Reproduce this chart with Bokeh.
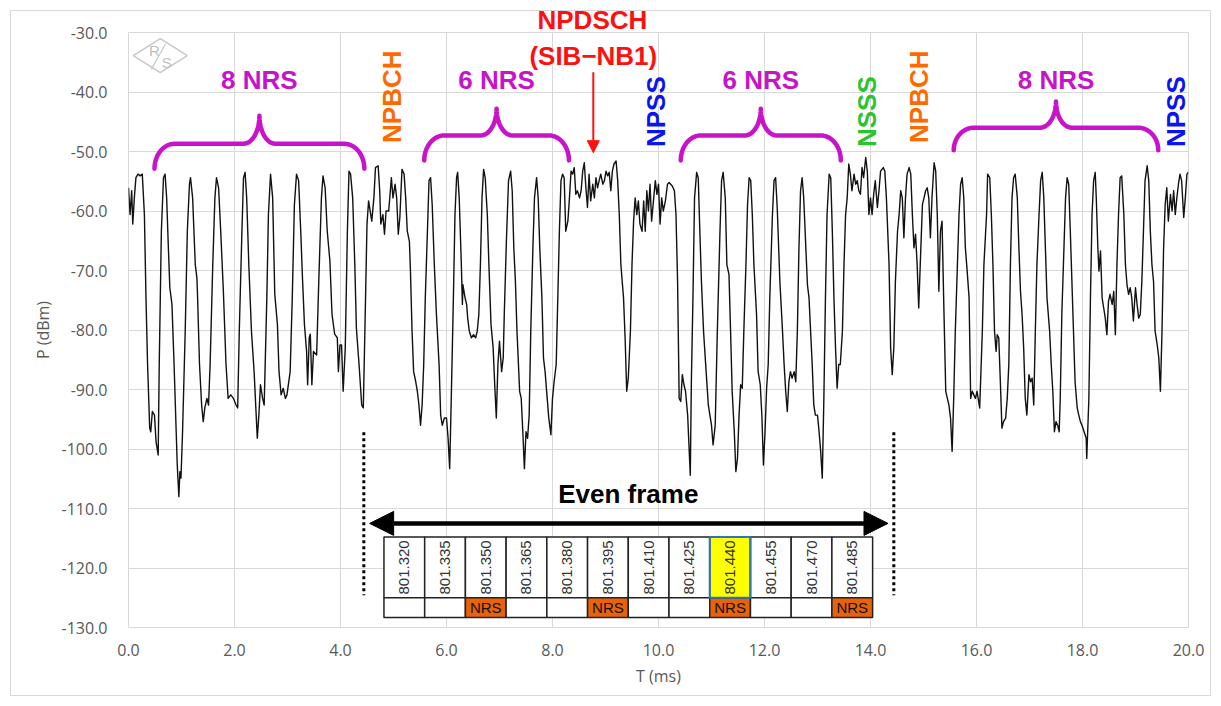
import math
import numpy as np
from bokeh.plotting import figure
from bokeh.models import (Range1d, FixedTicker, NumeralTickFormatter, Label, Arrow, NormalHead)
from bokeh.core.properties import value
from bokeh.embed import file_html
from bokeh.resources import INLINE

# ---------------- data: measured power trace ----------------
T_MS = [
 0.00,0.03,0.06,0.08,0.11,0.14,0.18,0.22,0.26,0.30,0.33,0.36,0.40,0.42,0.45,0.49,0.52,0.56,0.58,0.62,
 0.66,0.69,0.72,0.75,0.78,0.82,0.86,0.90,0.92,0.95,0.97,0.99,1.02,1.07,1.11,1.15,1.17,1.21,1.26,1.29,
 1.30,1.34,1.38,1.41,1.44,1.48,1.51,1.54,1.59,1.63,1.66,1.70,1.74,1.79,1.84,1.88,1.93,1.98,2.03,2.06,
 2.09,2.14,2.17,2.20,2.23,2.27,2.32,2.37,2.40,2.43,2.46,2.49,2.53,2.56,2.61,2.64,2.68,2.72,2.76,2.81,
 2.84,2.88,2.92,2.96,2.99,3.05,3.09,3.13,3.17,3.21,3.25,3.28,3.32,3.36,3.38,3.41,3.43,3.46,3.49,3.55,
 3.59,3.64,3.67,3.71,3.75,3.80,3.84,3.89,3.94,3.96,3.99,4.02,4.05,4.09,4.13,4.16,4.19,4.23,4.27,4.30,
 4.35,4.40,4.43,4.46,
 4.50,4.53,4.59,4.63,4.66,4.71,4.74,4.76,4.80,4.83,4.86,4.91,4.96,4.99,5.03,5.06,5.09,5.12,5.16,5.20,
 5.23,5.26,5.30,5.32,5.35,5.38,5.42,5.45,5.48,5.51,5.54,5.57,5.60,5.64,5.67,5.70,5.73,5.77,5.81,5.86,
 5.89,5.92,5.96,6.00,6.03,6.06,6.09,6.13,6.16,6.19,6.21,6.24,6.28,6.30,6.31,6.35,6.38,6.40,6.43,6.47,
 6.51,6.55,6.58,6.61,6.64,6.67,6.70,6.73,6.77,6.80,6.84,6.88,6.91,6.94,6.97,7.00,7.04,7.07,7.09,7.13,
 7.17,7.21,7.24,7.27,7.30,7.33,7.38,7.41,7.44,7.47,7.50,7.53,7.56,7.59,7.63,7.66,7.70,7.73,7.76,7.80,
 7.83,7.86,7.90,7.93,7.97,8.00,8.03,8.07,8.10,8.13,8.16,8.19,8.22,8.25,8.29,8.32,8.35,8.38,8.41,8.44,
 8.47,8.51,8.54,8.57,8.60,8.63,8.66,8.69,8.72,8.76,8.79,8.82,8.85,8.88,8.91,8.95,8.98,9.01,9.04,9.07,
 9.10,9.13,9.16,9.20,9.23,9.26,9.29,9.34,9.37,9.40,9.43,
 9.47,9.50,9.53,9.56,9.59,9.62,9.65,9.69,9.72,9.75,9.78,9.81,9.84,9.87,9.91,9.94,9.97,10.00,10.03,10.06,
 10.09,10.13,10.17,10.20,10.23,10.26,10.30,10.33,10.36,10.39,10.42,10.45,10.48,10.51,10.55,10.58,10.60,10.62,10.65,10.68,
 10.72,10.75,10.78,10.81,10.85,10.89,10.94,10.97,11.00,11.03,11.07,11.11,11.16,11.19,11.22,11.26,11.29,11.33,11.36,11.39,
 11.43,11.46,11.49,11.52,11.55,11.58,11.61,11.65,11.68,11.71,11.74,11.77,11.80,11.85,11.88,11.92,11.95,11.98,12.01,12.04,
 12.07,12.10,12.15,12.18,12.21,12.24,12.29,12.34,12.37,12.40,12.43,12.46,12.49,12.52,12.56,12.59,12.62,12.65,12.68,12.71,
 12.74,12.78,12.81,12.84,12.87,12.90,12.93,12.96,13.00,13.03,13.06,13.09,13.12,13.15,13.18,13.22,13.25,13.28,13.31,13.34,
 13.37,13.40,13.43,13.47,13.50,13.53,13.56,13.59,13.62,13.65,13.69,13.72,13.75,13.78,13.81,13.84,13.87,13.91,13.94,13.97,
 14.00,14.03,14.06,14.09,14.13,14.16,14.19,
 14.24,14.27,14.30,14.35,14.38,14.41,14.44,14.47,14.51,14.54,14.57,14.60,14.63,14.66,14.69,14.73,14.76,14.79,14.82,14.85,
 14.88,14.91,14.95,14.98,15.01,15.04,15.07,15.10,15.13,15.16,15.20,15.23,15.26,15.29,15.32,15.35,15.38,15.42,15.45,15.48,
 15.51,15.54,15.57,15.60,15.64,15.67,15.70,15.73,15.76,15.79,15.82,15.86,15.89,15.92,15.95,15.98,16.01,16.06,16.11,16.14,
 16.19,16.21,16.25,16.28,16.31,16.34,16.37,16.39,16.42,16.45,16.48,16.51,16.55,16.58,16.61,16.64,16.67,16.70,16.73,16.77,
 16.80,16.83,16.86,16.89,16.92,16.95,16.99,17.02,17.05,17.08,17.11,17.14,17.18,17.21,17.24,17.27,17.30,17.33,17.38,17.41,
 17.44,17.47,17.50,17.53,17.56,17.58,17.61,17.65,17.68,17.71,17.74,17.77,17.80,17.83,17.86,17.90,17.93,17.96,17.99,18.03,
 18.07,18.08,18.12,18.15,18.18,18.21,18.24,18.26,18.29,18.31,18.34,18.37,18.40,18.43,18.46,18.49,18.52,18.56,18.59,18.62,
 18.65,18.68,18.71,18.74,18.78,18.81,18.84,18.87,18.90,18.93,18.96,19.00,19.03,19.06,19.09,19.12,19.15,19.18,19.22,19.25,
 19.28,19.31,19.34,19.37,19.41,19.44,19.47,19.50,19.53,19.56,19.59,19.62,19.66,19.69,19.72,19.75,19.78,19.81,19.84,19.87,
 19.91,19.94,19.97,20.00]

P_DBM = [
 -56.1,-60.6,-56.6,-62.2,-57.8,-54.4,-53.8,-54.1,-53.8,-60.6,-74.6,-85.8,-96.5,-97.1,-93.7,-94.3,-98.8,-101.0,-85.8,-63.4,
 -54.4,-53.8,-57.8,-65.6,-72.9,-75.7,-85.8,-97.1,-102.7,-108.0,-103.8,-104.9,-97.1,-80.2,-63.4,-55.5,-54.4,-57.8,-69.0,-71.2,
 -73.5,-85.8,-92.6,-95.4,-93.1,-91.5,-92.6,-85.8,-69.0,-57.8,-54.4,-56.1,-63.4,-73.5,-85.8,-91.5,-90.9,-91.5,-92.6,-93.1,
 -80.2,-63.4,-54.4,-53.5,-57.8,-69.0,-80.2,-87.0,-92.6,-98.2,-94.3,-89.2,-91.5,-92.6,-74.6,-60.6,-53.8,-57.8,-74.0,-79.1,
 -87.0,-90.9,-89.8,-91.5,-90.9,-87.0,-74.6,-59.0,-53.8,-54.9,-63.4,-70.7,-79.1,-83.6,-89.2,-81.3,-80.7,-89.2,-83.6,-84.2,
 -71.8,-57.8,-54.1,-56.1,-63.4,-68.4,-77.4,-80.7,-81.3,-87.0,-82.5,-82.5,-90.3,-83.0,-63.4,-53.3,-53.8,-57.8,-69.0,-79.7,
 -85.8,-92.6,-93.1,-80.2,
 -62.2,-58.3,-61.7,-57.8,-52.7,-52.4,-56.6,-62.2,-60.6,-63.9,-60.0,-60.0,-54.4,-57.8,-55.5,-57.8,-63.9,-61.1,-53.0,-53.8,
 -57.8,-63.4,-65.1,-70.1,-80.2,-87.0,-88.7,-90.3,-92.6,-96.0,-92.6,-85.8,-74.6,-63.4,-54.9,-54.4,-58.9,-69.0,-77.4,-85.8,
 -94.3,-96.0,-94.8,-94.8,-98.2,-103.3,-91.5,-74.6,-60.6,-54.4,-53.5,-57.8,-69.0,-75.7,-72.4,-74.6,-75.7,-78.0,-80.2,-81.3,
 -80.8,-81.3,-80.2,-77.4,-69.0,-57.8,-53.0,-54.4,-60.6,-69.0,-79.1,-83.0,-89.2,-94.8,-85.8,-81.9,-87.0,-84.7,-77.4,-65.1,
 -54.9,-53.3,-56.6,-66.2,-71.8,-80.2,-90.3,-91.5,-97.1,-103.3,-97.1,-98.2,-94.3,-80.2,-66.2,-57.8,-54.4,-57.8,-66.2,-74.6,
 -84.7,-87.0,-91.5,-94.8,-97.6,-91.5,-88.7,-85.8,-74.6,-63.4,-54.9,-53.8,-54.4,-63.4,-61.7,-57.8,-53.3,-53.8,-52.7,-57.2,
 -56.6,-57.8,-56.6,-53.3,-51.9,-56.1,-59.4,-53.8,-58.3,-55.5,-57.8,-54.4,-56.1,-54.9,-53.8,-55.5,-54.9,-53.3,-54.1,-53.5,
 -56.6,-53.3,-52.1,-51.6,-54.9,-60.6,-69.0,-74.6,-81.3,-90.3,-88.1,
 -80.2,-69.0,-61.7,-57.8,-60.6,-58.3,-62.2,-63.4,-58.3,-63.4,-56.6,-60.0,-55.5,-61.7,-57.8,-54.9,-57.2,-55.5,-62.2,-57.8,
 -60.0,-58.3,-55.5,-55.2,-55.5,-55.8,-56.6,-60.6,-71.8,-91.5,-92.0,-87.5,-89.2,-90.3,-94.3,-100.4,-104.4,-88.7,-74.6,-57.8,
 -53.5,-54.4,-63.4,-71.8,-80.2,-85.8,-92.6,-94.3,-96.0,-99.3,-96.0,-80.2,-63.4,-54.9,-53.5,-57.8,-69.0,-70.7,-80.2,-90.3,
 -97.1,-103.8,-101.6,-94.3,-89.2,-89.8,-80.2,-69.0,-58.9,-54.4,-54.9,-60.6,-69.0,-77.4,-87.0,-89.2,-94.3,-102.7,-97.1,-89.8,
 -85.8,-74.6,-60.6,-54.9,-54.4,-59.4,-71.8,-80.2,-85.8,-90.3,-93.7,-88.7,-87.0,-88.1,-87.0,-88.7,-80.2,-66.2,-56.6,-54.4,
 -57.8,-66.2,-72.4,-74.6,-80.2,-85.8,-92.6,-94.3,-94.3,-97.1,-100.4,-104.9,-91.5,-74.6,-60.6,-53.8,-54.4,-63.4,-74.6,-83.0,
 -89.8,-85.8,-85.8,-80.2,-69.0,-60.6,-57.8,-52.1,-53.8,-56.6,-53.8,-55.5,-54.9,-56.6,-57.2,-52.7,-54.4,-51.0,-53.3,-60.6,
 -57.8,-60.6,-57.2,-54.9,-59.4,-56.6,-53.3,
 -52.7,-53.3,-57.8,-69.0,-83.0,-87.5,-83.0,-71.8,-63.4,-60.6,-56.6,-57.8,-64.5,-57.8,-53.8,-52.7,-53.8,-60.6,-66.2,-63.9,
 -69.0,-76.3,-66.2,-58.9,-57.8,-56.6,-56.1,-57.8,-64.5,-57.8,-51.9,-53.3,-60.6,-73.5,-63.4,-61.7,-74.6,-90.3,-91.5,-92.6,
 -94.8,-100.4,-91.5,-80.2,-69.0,-60.6,-55.5,-54.4,-57.8,-66.2,-69.6,-74.6,-91.5,-90.3,-90.9,-91.5,-90.3,-93.1,-80.2,-69.0,
 -60.6,-53.8,-54.4,-60.6,-69.0,-80.2,-83.6,-80.8,-81.3,-88.7,-96.5,-95.4,-94.8,-91.5,-85.8,-69.0,-57.8,-54.4,-53.8,-57.8,
 -66.2,-73.5,-77.4,-83.0,-91.5,-94.3,-87.5,-88.7,-88.1,-92.6,-80.2,-69.0,-60.6,-54.9,-53.5,-57.8,-66.2,-74.6,-80.2,-85.8,
 -90.3,-97.1,-95.4,-96.0,-97.1,-91.5,-77.4,-66.2,-57.8,-54.4,-55.5,-63.4,-71.8,-80.2,-88.7,-93.1,-94.3,-95.4,-96.0,-97.1,
 -98.2,-101.6,-91.5,-74.6,-60.6,-54.9,-53.5,-57.8,-66.2,-70.1,-66.7,-74.6,-76.3,-78.0,-80.8,-75.2,-74.0,-75.7,-73.5,-80.8,
 -69.0,-60.6,-54.4,-54.1,-60.6,-69.0,-72.4,-74.0,-72.9,-74.6,-78.5,-72.9,-75.7,-78.0,-77.4,-71.8,-63.4,-54.9,-52.4,-54.9,
 -63.4,-69.0,-71.8,-80.2,-82.5,-84.7,-90.3,-80.2,-66.2,-58.9,-56.1,-61.7,-57.2,-60.0,-56.6,-60.6,-57.8,-55.5,-53.8,-54.9,
 -61.1,-57.8,-53.8,-53.5]

X_TICKS = [0, 2, 4, 6, 8, 10, 12, 14, 16, 18, 20]
Y_TICKS = [-130, -120, -110, -100, -90, -80, -70, -60, -50, -40, -30]

# NRS groups (curly braces)
BRACE_LABELS = ["8 NRS", "6 NRS", "6 NRS", "8 NRS"]
BRACE_START = [0.49, 5.58, 10.42, 15.57]
BRACE_END = [4.45, 8.31, 13.44, 19.43]
BRACE_END_Y = [-52.9, -51.5, -51.5, -49.8]
BRACE_FLAT_Y = [-48.7, -47.3, -47.3, -46.0]
BRACE_TIP_Y = [-44.0, -42.8, -42.8, -41.6]
BRACE_LABEL_Y = [-37.9, -37.9, -37.9, -37.9]

# channel names (vertical)
CHANNEL_NAMES = ["NPBCH", "NPSS", "NSSS", "NPBCH", "NPSS"]
CHANNEL_T = [4.98, 9.95, 13.93, 14.91, 19.77]
CHANNEL_Y = [-40.8, -43.3, -43.3, -40.8, -43.3]
CHANNEL_COLORS = ["#FF6A00", "#0A14F0", "#2DC32D", "#FF6A00", "#0A14F0"]

# NPDSCH annotation
NPDSCH_TITLE = "NPDSCH"
NPDSCH_SUB = "(SIB\u2212NB1)"
NPDSCH_T = 8.77
NPDSCH_SUB_Y = -33.9
NPDSCH_ARROW_Y = [-36.7, -50.2]

# Even frame table
FRAME_EDGES_T = [4.44, 14.44]
FRAME_LINE_Y = [-97.2, -124.6]
FRAME_ARROW_T = [4.55, 14.33]
FRAME_ARROW_Y = -112.5
FRAME_TEXT_Y = -107.6
TABLE_FREQS = ["801.320", "801.335", "801.350", "801.365", "801.380", "801.395",
               "801.410", "801.425", "801.440", "801.455", "801.470", "801.485"]
TABLE_NRS = [0, 0, 1, 0, 0, 1, 0, 0, 1, 0, 0, 1]
TABLE_HIGHLIGHT = [0, 0, 0, 0, 0, 0, 0, 0, 1, 0, 0, 0]
TABLE_T = [4.82, 14.04]
TABLE_Y = [-114.8, -125.0, -128.3]

# ---------------- figure ----------------
p = figure(width=1221, height=706, output_backend="svg", toolbar_location=None,
           x_range=Range1d(0, 20), y_range=Range1d(-130, -30))
p.min_border_left = 128
p.min_border_right = 33
p.min_border_top = 32
p.min_border_bottom = 79
p.background_fill_color = "white"
p.border_fill_alpha = 0
p.outline_line_color = "#D9D9D9"
# thin outer chart frame, 10 px inside the canvas edge (drawn by CSS behind the transparent border area)
p.styles = {"background-color": "white",
            "box-shadow": "inset 0 0 0 10px #FFFFFF, inset 0 0 0 11px #D9D9D9"}

# NPDSCH header text lives in the title panel (above the plot frame)
p.title.text = NPDSCH_TITLE
p.title.text_font = "Liberation Sans"
p.title.text_font_style = "bold"
p.title.text_font_size = "26px"
p.title.text_color = "#FF1010"
p.title.align = "left"
p.title.offset = 409
p.title.standoff = -5

GRID = "#D9D9D9"
p.xaxis.ticker = FixedTicker(ticks=X_TICKS)
p.yaxis.ticker = FixedTicker(ticks=Y_TICKS)
p.xgrid.ticker = FixedTicker(ticks=X_TICKS)
p.ygrid.ticker = FixedTicker(ticks=Y_TICKS)
p.xgrid.grid_line_color = GRID
p.ygrid.grid_line_color = GRID
p.xaxis.formatter = NumeralTickFormatter(format="0.0")
p.yaxis.formatter = NumeralTickFormatter(format="0.0")
for ax in (p.xaxis, p.yaxis):
    ax.axis_line_color = None
    ax.major_tick_line_color = None
    ax.minor_tick_line_color = None
    ax.major_label_text_font = "Open Sans"
    ax.major_label_text_font_size = "16px"
    ax.major_label_text_color = "#595959"
    ax.axis_label_text_font = "Open Sans"
    ax.axis_label_text_font_size = "16px"
    ax.axis_label_text_font_style = "normal"
    ax.axis_label_text_color = "#595959"
p.xaxis.axis_label = "T (ms)"
p.yaxis.axis_label = "P (dBm)"
p.yaxis.major_label_standoff = 15
p.yaxis.axis_label_standoff = 5
p.xaxis.major_label_standoff = 10
p.xaxis.axis_label_standoff = 6

# R&S logo
cx, cy, hw, hh = 0.60, -33.9, 0.51, 2.86
p.patch([cx - hw, cx, cx + hw, cx, cx - hw], [cy, cy + hh, cy, cy - hh, cy],
        fill_color=None, line_color="#C8C8C8", line_width=1.5)
p.text(x=[cx - 0.11, cx + 0.12], y=[cy + 0.8, cy - 1.1], text=["R", "S"],
       text_font=value("Liberation Sans"), text_font_size="15px", text_color="#C0C0C0",
       text_align="center", text_baseline="middle")
p.line([cx - 0.17, cx + 0.1], [cy - 2.3, cy + 2.0], line_color="#C8C8C8", line_width=1.2)

# trace
p.line(T_MS, P_DBM, line_color="#111111", line_width=1.4, line_join="round")

# braces
def brace_path(x0, x1, ye, yf, yt, rx_end=0.38, rx_tip=0.30, n=14):
    xc = (x0 + x1) / 2.0
    xs, ys = [], []
    for a in np.linspace(math.pi, math.pi / 2, n):
        xs.append(x0 + rx_end + rx_end * math.cos(a)); ys.append(ye + (yf - ye) * math.sin(a))
    for a in np.linspace(-math.pi / 2, 0, n):
        xs.append(xc - rx_tip + rx_tip * math.cos(a)); ys.append(yt + (yt - yf) * math.sin(a))
    for a in np.linspace(math.pi, 1.5 * math.pi, n):
        xs.append(xc + rx_tip + rx_tip * math.cos(a)); ys.append(yt + (yt - yf) * math.sin(a))
    for a in np.linspace(math.pi / 2, 0, n):
        xs.append(x1 - rx_end + rx_end * math.cos(a)); ys.append(ye + (yf - ye) * math.sin(a))
    return xs, ys

MAGENTA = "#C814C8"
bx, by = [], []
for i in range(len(BRACE_START)):
    xs, ys = brace_path(BRACE_START[i], BRACE_END[i], BRACE_END_Y[i], BRACE_FLAT_Y[i], BRACE_TIP_Y[i])
    bx.append(xs); by.append(ys)
p.multi_line(bx, by, line_color=MAGENTA, line_width=4.5, line_cap="round", line_join="round")

BOLD = dict(text_font="Liberation Sans", text_font_style="bold", text_font_size="26px",
            text_align="center", text_baseline="middle")
for i, lab in enumerate(BRACE_LABELS):
    p.add_layout(Label(x=(BRACE_START[i] + BRACE_END[i]) / 2.0, y=BRACE_LABEL_Y[i], text=lab,
                       text_color=MAGENTA, **BOLD))
for i, lab in enumerate(CHANNEL_NAMES):
    p.add_layout(Label(x=CHANNEL_T[i], y=CHANNEL_Y[i], text=lab, angle=math.pi / 2,
                       text_color=CHANNEL_COLORS[i], **BOLD))
p.add_layout(Label(x=NPDSCH_T, y=NPDSCH_SUB_Y, text=NPDSCH_SUB, text_color="#FF1010", **BOLD))
p.add_layout(Arrow(end=NormalHead(size=12, fill_color="#FF1010", line_color="#FF1010"),
                   x_start=NPDSCH_T, y_start=NPDSCH_ARROW_Y[0], x_end=NPDSCH_T, y_end=NPDSCH_ARROW_Y[1],
                   line_color="#FF1010", line_width=2))

# even frame markers
p.segment(x0=FRAME_EDGES_T, y0=[FRAME_LINE_Y[0]] * 2, x1=FRAME_EDGES_T, y1=[FRAME_LINE_Y[1]] * 2,
          line_color="black", line_width=3, line_dash="3 3")
p.add_layout(Arrow(start=NormalHead(size=24, fill_color="black", line_color="black"),
                   end=NormalHead(size=24, fill_color="black", line_color="black"),
                   x_start=FRAME_ARROW_T[0], y_start=FRAME_ARROW_Y,
                   x_end=FRAME_ARROW_T[1], y_end=FRAME_ARROW_Y,
                   line_color="black", line_width=4.5))
p.add_layout(Label(x=(TABLE_T[0] + TABLE_T[1]) / 2.0, y=FRAME_TEXT_Y, text="Even frame",
                   text_color="black", **BOLD))

# table
n = len(TABLE_FREQS)
w = (TABLE_T[1] - TABLE_T[0]) / n
lefts = [TABLE_T[0] + i * w for i in range(n)]
rights = [l + w for l in lefts]
centers = [l + w / 2 for l in lefts]
top_fill = ["#FFFF00" if h else "white" for h in TABLE_HIGHLIGHT]
bot_fill = ["#E8620C" if f else "white" for f in TABLE_NRS]
p.quad(left=lefts, right=rights, top=[TABLE_Y[0]] * n, bottom=[TABLE_Y[1]] * n,
       fill_color=top_fill, line_color="#222222", line_width=1.5)
p.quad(left=lefts, right=rights, top=[TABLE_Y[1]] * n, bottom=[TABLE_Y[2]] * n,
       fill_color=bot_fill, line_color="#222222", line_width=1.5)
hl = [i for i in range(n) if TABLE_HIGHLIGHT[i]]
p.quad(left=[lefts[i] for i in hl], right=[rights[i] for i in hl],
       top=[TABLE_Y[0]] * len(hl), bottom=[TABLE_Y[1]] * len(hl),
       fill_color=None, line_color="#2E75B6", line_width=2)
p.text(x=centers, y=[(TABLE_Y[0] + TABLE_Y[1]) / 2.0] * n, text=TABLE_FREQS, angle=math.pi / 2,
       text_font=value("Liberation Sans"), text_font_size="15px", text_color="#333333",
       text_align="center", text_baseline="middle")
nrs_idx = [i for i in range(n) if TABLE_NRS[i]]
p.text(x=[centers[i] for i in nrs_idx], y=[(TABLE_Y[1] + TABLE_Y[2]) / 2.0] * len(nrs_idx),
       text=["NRS"] * len(nrs_idx),
       text_font=value("Liberation Sans"), text_font_size="15px", text_color="#111111",
       text_align="center", text_baseline="middle")

open("out.html", "w").write(file_html(p, INLINE))
